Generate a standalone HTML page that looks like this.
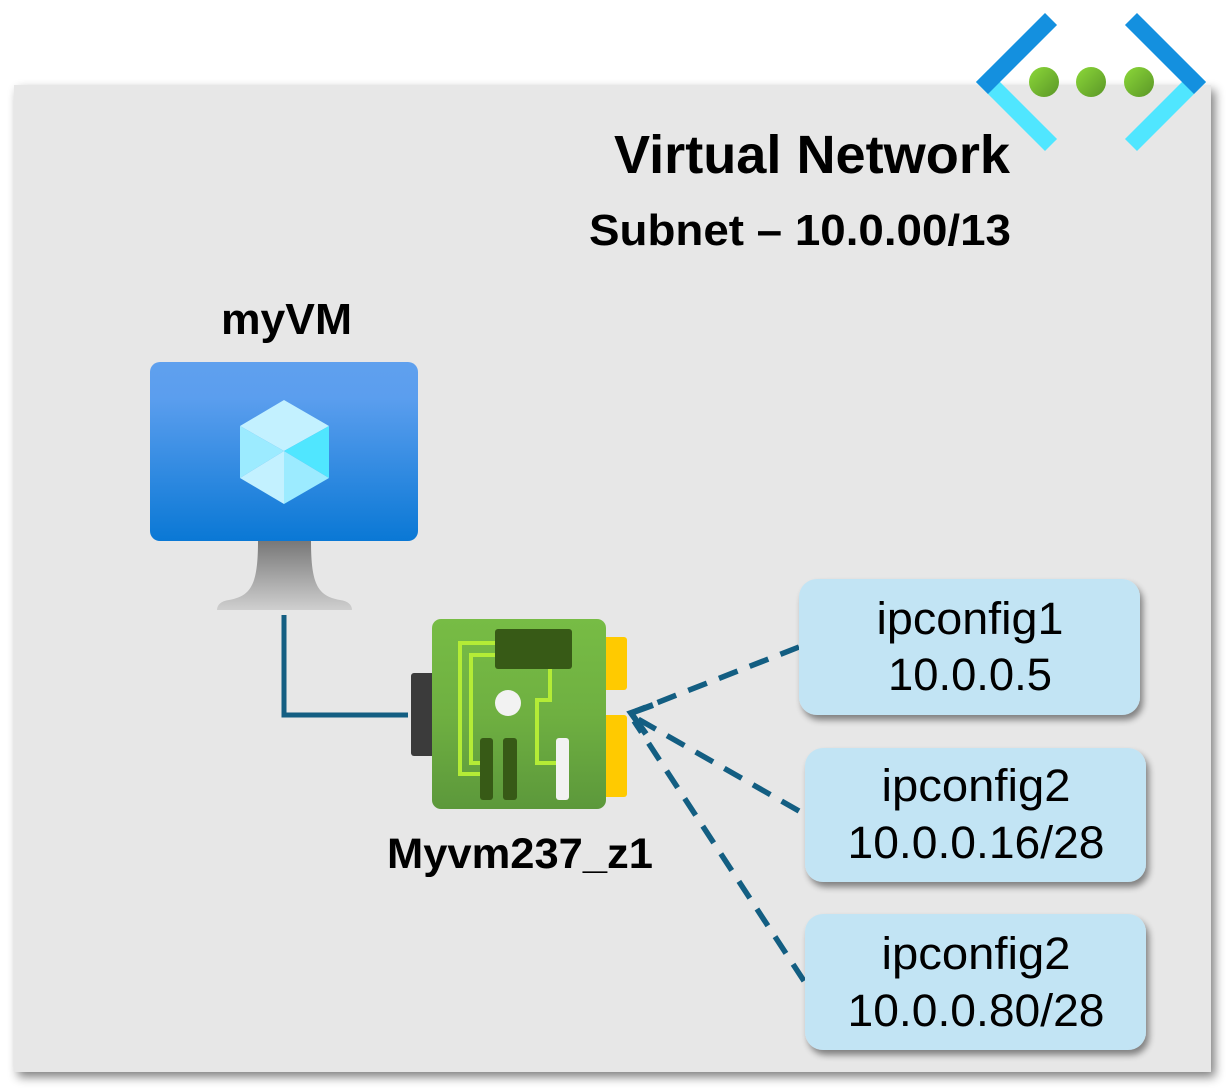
<!DOCTYPE html>
<html>
<head>
<meta charset="utf-8">
<style>
html,body{margin:0;padding:0;background:#fff;}
body{width:1229px;height:1091px;position:relative;overflow:hidden;}
svg{position:absolute;left:0;top:0;}
text{font-family:"Liberation Sans",sans-serif;}
</style>
</head>
<body>
<svg width="1229" height="1091" viewBox="0 0 1229 1091" xmlns="http://www.w3.org/2000/svg">
<defs>
  <filter id="sh" x="-10%" y="-10%" width="120%" height="120%">
    <feGaussianBlur in="SourceAlpha" stdDeviation="5"/>
    <feOffset dx="4" dy="5" result="b"/>
    <feComponentTransfer><feFuncA type="linear" slope="0.5"/></feComponentTransfer>
    <feMerge><feMergeNode/><feMergeNode in="SourceGraphic"/></feMerge>
  </filter>
  <filter id="sh2" x="-10%" y="-10%" width="130%" height="130%">
    <feGaussianBlur in="SourceAlpha" stdDeviation="3.5"/>
    <feOffset dx="3" dy="5" result="b"/>
    <feComponentTransfer><feFuncA type="linear" slope="0.45"/></feComponentTransfer>
    <feMerge><feMergeNode/><feMergeNode in="SourceGraphic"/></feMerge>
  </filter>
  <linearGradient id="scr" x1="0" y1="0" x2="0" y2="1">
    <stop offset="0" stop-color="#5fa0ee"/>
    <stop offset="0.2" stop-color="#5b9eee"/>
    <stop offset="1" stop-color="#0a78d5"/>
  </linearGradient>
  <linearGradient id="stand" x1="0" y1="0" x2="0" y2="1">
    <stop offset="0" stop-color="#787878"/>
    <stop offset="1" stop-color="#cfcfcf"/>
  </linearGradient>
  <linearGradient id="board" x1="0" y1="0" x2="0" y2="1">
    <stop offset="0" stop-color="#77bc45"/>
    <stop offset="0.5" stop-color="#6fb041"/>
    <stop offset="1" stop-color="#5c983b"/>
  </linearGradient>
  <linearGradient id="dot" x1="0" y1="0" x2="1" y2="1">
    <stop offset="0" stop-color="#8cd839"/>
    <stop offset="1" stop-color="#5a9627"/>
  </linearGradient>
</defs>

<!-- background panel -->
<rect x="14" y="85" width="1197" height="987" fill="#e7e7e7" filter="url(#sh)"/>

<!-- network icon -->
<g stroke-linecap="square" stroke-linejoin="round">
  <line x1="988" y1="82" x2="1045" y2="139" stroke="#50e6ff" stroke-width="17"/>
  <line x1="988" y1="82" x2="1045" y2="25" stroke="#1490df" stroke-width="17"/>
  <line x1="1194" y1="82" x2="1137" y2="139" stroke="#50e6ff" stroke-width="17"/>
  <line x1="1194" y1="82" x2="1137" y2="25" stroke="#1490df" stroke-width="17"/>
</g>
<circle cx="1044" cy="82" r="15" fill="url(#dot)"/>
<circle cx="1091" cy="82" r="15" fill="url(#dot)"/>
<circle cx="1139" cy="82" r="15" fill="url(#dot)"/>

<!-- titles -->
<text x="1010" y="173" font-size="54" font-weight="bold" text-anchor="end" fill="#000" textLength="396" lengthAdjust="spacingAndGlyphs">Virtual Network</text>
<text x="1011" y="245" font-size="44" font-weight="bold" text-anchor="end" fill="#000" textLength="422" lengthAdjust="spacingAndGlyphs">Subnet – 10.0.00/13</text>
<text x="221" y="334" font-size="44" font-weight="bold" fill="#000" textLength="131" lengthAdjust="spacingAndGlyphs">myVM</text>

<!-- VM monitor -->
<path d="M258 541 L311 541 C311 585 318 596 340 600 C348 601 352 605 352 610 L217 610 C217 605 221 601 229 600 C251 596 258 585 258 541 Z" fill="url(#stand)"/>
<rect x="150" y="362" width="268" height="179" rx="10" fill="url(#scr)"/>
<g>
  <polygon points="284,400 329,426 284,451 240,426" fill="#c3f1ff"/>
  <polygon points="240,426 284,451 240,478" fill="#9cebff"/>
  <polygon points="329,426 284,451 329,478" fill="#50e6ff"/>
  <polygon points="240,478 284,451 284,504" fill="#c3f1ff"/>
  <polygon points="329,478 284,451 284,504" fill="#9cebff"/>
</g>

<!-- VM to NIC connector -->
<polyline points="284,615 284,715 408,715" fill="none" stroke="#135e82" stroke-width="5"/>

<!-- NIC -->
<rect x="411" y="673" width="26" height="83" rx="3" fill="#3b3b3b"/>
<rect x="600" y="637" width="27" height="53" rx="3" fill="#ffca00"/>
<rect x="600" y="715" width="27" height="82" rx="3" fill="#ffca00"/>
<rect x="432" y="619" width="174" height="190" rx="9" fill="url(#board)"/>
<g fill="none" stroke="#b4ec36" stroke-width="4">
  <polyline points="497,643 460,643 460,774 482,774"/>
  <polyline points="497,655 471,655 471,763 482,763"/>
  <polyline points="550,665 550,700 537,700 537,763 558,763"/>
</g>
<rect x="495" y="629" width="77" height="40" rx="3" fill="#375a16"/>
<circle cx="508" cy="703" r="13" fill="#f2f2f2"/>
<rect x="480" y="738" width="13" height="62" rx="3" fill="#375a16"/>
<rect x="503" y="738" width="14" height="62" rx="3" fill="#375a16"/>
<rect x="556" y="738" width="13" height="62" rx="3" fill="#f2f2f2"/>

<text x="387" y="868" font-size="43" font-weight="bold" fill="#000" textLength="266" lengthAdjust="spacingAndGlyphs">Myvm237_z1</text>

<!-- dashed connectors -->
<g fill="none" stroke="#135e82" stroke-width="5.5" stroke-dasharray="20 13">
  <line x1="799" y1="647" x2="636" y2="711"/>
  <line x1="799" y1="811" x2="638" y2="719"/>
  <line x1="804" y1="981" x2="634" y2="721"/>
</g>
<polyline points="653,705 631,713 646,734" fill="none" stroke="#135e82" stroke-width="6"/>

<!-- ipconfig boxes -->
<g filter="url(#sh2)">
  <rect x="799" y="579" width="341" height="136" rx="18" fill="#c2e4f4"/>
  <rect x="805" y="748" width="341" height="134" rx="18" fill="#c2e4f4"/>
  <rect x="805" y="914" width="341" height="136" rx="18" fill="#c2e4f4"/>
</g>
<g font-size="45" text-anchor="middle" fill="#000">
  <text x="970" y="634" textLength="187" lengthAdjust="spacingAndGlyphs">ipconfig1</text>
  <text x="970" y="690" textLength="164" lengthAdjust="spacingAndGlyphs">10.0.0.5</text>
  <text x="976" y="801" textLength="189" lengthAdjust="spacingAndGlyphs">ipconfig2</text>
  <text x="976" y="858" textLength="257" lengthAdjust="spacingAndGlyphs">10.0.0.16/28</text>
  <text x="976" y="969" textLength="189" lengthAdjust="spacingAndGlyphs">ipconfig2</text>
  <text x="976" y="1026" textLength="257" lengthAdjust="spacingAndGlyphs">10.0.0.80/28</text>
</g>
</svg>
</body>
</html>
